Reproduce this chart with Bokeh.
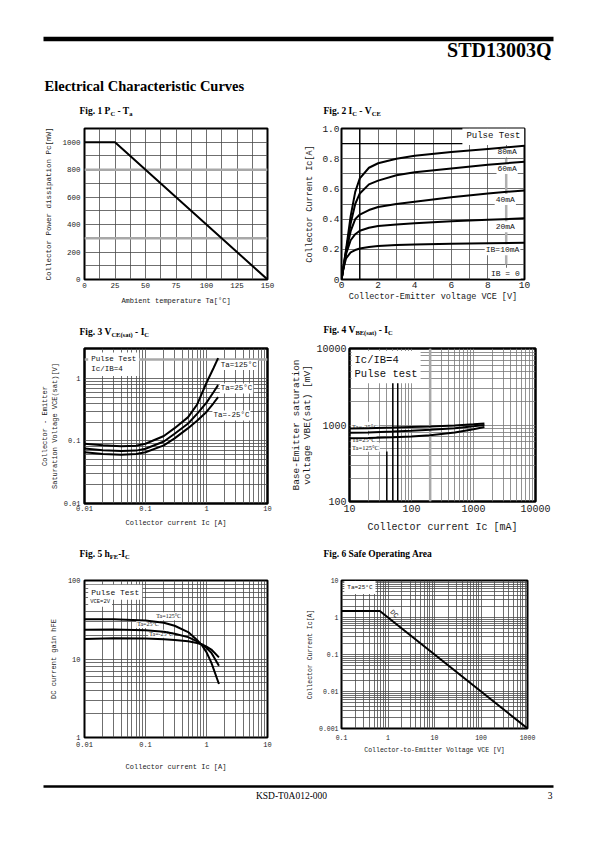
from bokeh.plotting import figure
from bokeh.layouts import column, row
from bokeh.models import Range1d, FixedTicker, CustomJSTickFormatter, Span, ColumnDataSource
from bokeh.core.properties import value
from bokeh.embed import file_html
from bokeh.resources import INLINE

# ---------------- data ----------------
# Fig 1  Pc - Ta
fig1_ta = [0, 25, 150]
fig1_pc = [1000, 1000, 0]

# Fig 2  Ic - Vce (A vs V) for several base currents
fig2_vce = [0, 0.1, 0.25, 0.5, 0.75, 1.0, 1.5, 2, 3, 4, 6, 8, 10]
fig2_ib10 = [0, 0.07, 0.14, 0.18, 0.195, 0.205, 0.215, 0.222, 0.228, 0.232, 0.237, 0.240, 0.243]
fig2_ib20 = [0, 0.07, 0.17, 0.26, 0.30, 0.323, 0.343, 0.355, 0.365, 0.372, 0.385, 0.395, 0.405]
fig2_ib40 = [0, 0.07, 0.18, 0.32, 0.40, 0.43, 0.46, 0.48, 0.50, 0.515, 0.545, 0.57, 0.59]
fig2_ib60 = [0, 0.08, 0.19, 0.37, 0.50, 0.57, 0.63, 0.655, 0.69, 0.71, 0.735, 0.76, 0.78]
fig2_ib80 = [0, 0.08, 0.20, 0.42, 0.58, 0.67, 0.74, 0.77, 0.80, 0.82, 0.845, 0.865, 0.885]
fig2_names = ["80mA", "60mA", "40mA", "20mA", "IB=10mA", "IB = 0"]

# Fig 3  Vce(sat) - Ic
fig3_ic = [0.01, 0.02, 0.04, 0.07, 0.1, 0.2, 0.3, 0.5, 0.7, 1.0, 1.3, 1.55]
fig3_t125 = [0.090, 0.085, 0.082, 0.084, 0.090, 0.12, 0.16, 0.24, 0.38, 0.85, 1.45, 2.1]
fig3_t25 = [0.076, 0.071, 0.069, 0.070, 0.075, 0.098, 0.13, 0.19, 0.27, 0.41, 0.60, 0.78]
fig3_tm25 = [0.066, 0.062, 0.060, 0.062, 0.066, 0.085, 0.11, 0.16, 0.21, 0.29, 0.40, 0.50]

# Fig 4  Vbe(sat) - Ic (mV vs mA)
fig4_ic = [10, 20, 50, 100, 200, 500, 1000, 1500]
fig4_tm25 = [900, 910, 925, 940, 955, 985, 1020, 1045]
fig4_t25 = [790, 800, 820, 840, 865, 910, 965, 1000]
fig4_t125 = [670, 675, 690, 705, 735, 800, 880, 940]

# Fig 5  hFE - Ic
fig5_ic = [0.01, 0.03, 0.1, 0.2, 0.3, 0.5, 0.7, 0.85, 1.0, 1.2, 1.6]
fig5_t125 = [32, 32, 31, 29, 26.5, 22, 17.5, 14.8, 12.2, 9.0, 4.8]
fig5_t25 = [23.5, 23.8, 23.3, 22.3, 21, 19, 16.8, 15.2, 13.8, 12.0, 8.2]
fig5_tm25 = [18, 18.4, 18.2, 17.8, 17.4, 16.8, 16, 15.3, 14.4, 13.2, 10.5]

# Fig 6  Safe operating area
fig6_vce = [0.1, 0.667, 1000]
fig6_ic = [1.5, 1.5, 0.001]

# tick labels
fig1_xticks = [0, 25, 50, 75, 100, 125, 150]
fig1_yticks = [0, 200, 400, 600, 800, 1000]
fig2_xticks = [0, 2, 4, 6, 8, 10]
fig2_yticks = [0, 0.2, 0.4, 0.6, 0.8, 1.0]

MONO = "Liberation Mono"
SERIF = "Liberation Serif"
GRID = "#4a4a4a"
PAGE_W = 587

# Times-Bold advance widths (1/1000 em) for title layout
TB = {' ': 250, '(': 333, ')': 333, ',': 250, '-': 333, '.': 250, 'A': 722, 'B': 667,
      'C': 722, 'E': 667, 'F': 611, 'I': 389, 'O': 778, 'P': 611, 'S': 556, 'T': 667,
      'V': 722, 'a': 500, 'e': 444, 'f': 333, 'g': 500, 'h': 556, 'i': 278, 'n': 556,
      'p': 556, 'r': 444, 's': 389, 't': 333, 'y': 500}


def tw(s, size):
    return sum(TB.get(c, 500) for c in s) / 1000.0 * size


def canvas(w, h):
    p = figure(width=w, height=h, x_range=Range1d(0, w), y_range=Range1d(h, 0),
               min_border=0, x_axis_location=None, y_axis_location=None,
               tools="", toolbar_location=None, output_backend="svg")
    p.grid.visible = False
    p.outline_line_color = None
    p.background_fill_color = "white"
    p.border_fill_color = "white"
    return p


def put_title(p, x0, yc, parts, size=9.5, sub=6.5):
    x = x0
    for txt, is_sub in parts:
        fs = sub if is_sub else size
        lead = len(txt) - len(txt.lstrip(" "))
        x += tw(" " * lead, fs)
        body = txt.strip(" ")
        p.text(x=[x], y=[yc + (3.0 if is_sub else 0.0)], text=[body],
               text_font=value(SERIF), text_font_style="bold", text_color="black",
               text_font_size="%.1fpx" % fs, text_baseline="middle", text_align="left")
        x += tw(txt.lstrip(" "), fs)


def log_ticks(e0, e1):
    majors = [10.0 ** e for e in range(e0, e1 + 1)]
    minors = [m * 10.0 ** e for e in range(e0, e1) for m in range(2, 10)]
    return majors, minors


def chart(fw, fh, bl, br, bt, bb, xr, yr, xlog=False, ylog=False, outline=2):
    p = figure(frame_width=fw, frame_height=fh, min_border_left=bl, min_border_right=br,
               min_border_top=bt, min_border_bottom=bb, x_range=xr, y_range=yr,
               x_axis_type="log" if xlog else "linear",
               y_axis_type="log" if ylog else "linear",
               tools="", toolbar_location=None, output_backend="svg")
    p.outline_line_color = "black"
    p.outline_line_width = outline
    p.background_fill_color = "white"
    p.border_fill_color = "white"
    for ax in p.axis:
        ax.axis_line_color = None
        ax.major_tick_line_color = None
        ax.minor_tick_line_color = None
        ax.major_tick_in = 0
        ax.major_tick_out = 0
        ax.minor_tick_in = 0
        ax.minor_tick_out = 0
        ax.major_label_text_font = MONO
        ax.axis_label_text_font = MONO
        ax.axis_label_text_font_style = "normal"
        ax.major_label_text_color = "#1a1a1a"
        ax.axis_label_text_color = "#1a1a1a"
    for g in p.grid:
        g.grid_line_color = GRID
        g.grid_line_width = 0.8
        g.minor_grid_line_color = GRID
        g.minor_grid_line_width = 0.8
    return p


def style_axis(ax, tick_size, lab_size, tick_off, lab_off):
    ax.major_label_text_font_size = tick_size
    ax.axis_label_text_font_size = lab_size
    ax.major_label_standoff = tick_off
    ax.axis_label_standoff = lab_off


def set_log_axes(ax, e0, e1):
    majors, minors = log_ticks(e0, e1)
    ax.ticker = FixedTicker(ticks=majors)
    ax.formatter = CustomJSTickFormatter(code="return tick.toString();")
    return majors, minors


def label_text(p, xs, ys, texts, size, font=MONO, align="center", baseline="middle",
               bg="white", angle=0.0, pad=1):
    src = ColumnDataSource(dict(x=xs, y=ys, t=texts))
    p.text(x="x", y="y", text="t", source=src, text_font=value(font),
           text_font_size=size, text_align=align, text_baseline=baseline,
           text_color="#111111", background_fill_color=bg, padding=pad, angle=angle)


# ---------------- header ----------------
header = canvas(PAGE_W, 100)
header.segment(x0=[43], y0=[38.5], x1=[553], y1=[38.5], line_width=4.5, line_color="black")
header.text(x=[551], y=[49], text=["STD13003Q"], text_font=value(SERIF), text_font_style="bold",
            text_font_size="20px", text_align="right", text_baseline="middle", text_color="black")
header.text(x=[44], y=[85], text=["Electrical Characteristic Curves"], text_font=value(SERIF),
            text_font_style="bold", text_font_size="14.5px", text_align="left",
            text_baseline="middle", text_color="black")

# ---------------- title rows ----------------
tit1 = canvas(PAGE_W, 18)
put_title(tit1, 79, 10, [("Fig. 1 P", 0), ("C", 1), (" - T", 0), ("a", 1)])
put_title(tit1, 323, 10, [("Fig. 2 I", 0), ("C", 1), (" - V", 0), ("CE", 1)])

tit2 = canvas(PAGE_W, 18)
put_title(tit2, 79, 11, [("Fig. 3 V", 0), ("CE(sat)", 1), (" - I", 0), ("C", 1)])
put_title(tit2, 323, 9, [("Fig. 4 V", 0), ("BE(sat)", 1), (" - I", 0), ("C", 1)])

tit3 = canvas(PAGE_W, 20)
put_title(tit3, 79, 13, [("Fig. 5 h", 0), ("FE", 1), ("-I", 0), ("C", 1)])
put_title(tit3, 323, 13, [("Fig. 6 Safe Operating Area", 0)])

# ---------------- Fig 1 ----------------
f1 = chart(183, 151, 84, 21, 10, 41, Range1d(0, 150), Range1d(0, 1100))
f1.xaxis.ticker = FixedTicker(ticks=fig1_xticks)
f1.yaxis.ticker = FixedTicker(ticks=fig1_yticks)
f1.xgrid.ticker = FixedTicker(ticks=[i * 12.5 for i in range(13)])
f1.ygrid.ticker = FixedTicker(ticks=[i * 100 for i in range(12)])
style_axis(f1.xaxis[0], "7.5px", "7px", 3, 6)
style_axis(f1.yaxis[0], "7.5px", "7.5px", 4, 6)
f1.xaxis.axis_label = "Ambient temperature Ta[°C]"
f1.yaxis.axis_label = "Collector Power dissipation Pc[mW]"
for yv in [800, 300]:
    f1.add_layout(Span(location=yv, dimension="width", line_color="#a8a8a8", line_width=2.5,
                       level="underlay"))
f1.line(fig1_ta, fig1_pc, line_color="black", line_width=2)

# ---------------- Fig 2 ----------------
f2 = chart(183, 151, 53, 63, 10, 41, Range1d(0, 10), Range1d(0, 1.0))
f2.xaxis.ticker = FixedTicker(ticks=fig2_xticks)
f2.yaxis.ticker = FixedTicker(ticks=fig2_yticks)
f2.yaxis.formatter = CustomJSTickFormatter(code="return tick == 0 ? '0' : tick.toFixed(1);")
f2.xgrid.ticker = FixedTicker(ticks=list(range(11)))
f2.ygrid.ticker = FixedTicker(ticks=[i / 10 for i in range(11)])
style_axis(f2.xaxis[0], "9.5px", "8.5px", 2, 1)
style_axis(f2.yaxis[0], "9.5px", "8.5px", 2, 4)
f2.xaxis.axis_label = "Collector-Emitter voltage VCE [V]"
f2.yaxis.axis_label = "Collector Current Ic[A]"
f2.add_layout(Span(location=1, dimension="height", line_color="black", line_width=1.4, level="underlay"))
f2.add_layout(Span(location=0.9, dimension="width", line_color="black", line_width=1.4, level="underlay"))
f2.segment(x0=[9], y0=[0.1], x1=[9], y1=[0.8], line_color="#b0b0b0", line_width=2.5)
label_text(f2, [8.3], [0.95], ["Pulse Test"], "9px", pad=4)
label_text(f2, [9.05, 9.05, 8.95, 8.95, 8.8, 8.95],
           [0.845, 0.735, 0.53, 0.35, 0.197, 0.042], fig2_names, "8px")
for ys in [fig2_ib10, fig2_ib20, fig2_ib40, fig2_ib60, fig2_ib80]:
    f2.line(fig2_vce, ys, line_color="black", line_width=2)

# ---------------- Fig 3 ----------------
f3 = chart(183, 155, 84, 21, 10, 37, Range1d(0.01, 10), Range1d(0.01, 3),
           xlog=True, ylog=True, outline=2.5)
mx, nx = set_log_axes(f3.xaxis[0], -2, 1)
my, ny = set_log_axes(f3.yaxis[0], -2, 0)
f3.xgrid.ticker = FixedTicker(ticks=mx, minor_ticks=nx)
f3.ygrid.ticker = FixedTicker(ticks=my, minor_ticks=ny + [2.0, 3.0])
style_axis(f3.xaxis[0], "7px", "7px", 2, 5)
style_axis(f3.yaxis[0], "7px", "7px", 4, 2)
f3.xaxis.axis_label = "Collector current Ic [A]"
f3.yaxis.axis_label = "Collector - Emitter\nSaturation Voltage VCE(sat)[V]"
f3.add_layout(Span(location=2.0, dimension="width", line_color="#a8a8a8", line_width=2.5, level="underlay"))
label_text(f3, [0.0115], [2.6], ["Pulse Test\nIc/IB=4"], "7.5px", align="left", baseline="top", pad=3)
label_text(f3, [1.65, 1.65, 1.25], [1.63, 0.69, 0.255], ["Ta=125°C", "Ta=25°C", "Ta=-25°C"],
           "7.5px", align="left")
for ys in [fig3_t125, fig3_t25, fig3_tm25]:
    f3.line(fig3_ic, ys, line_color="black", line_width=2)

# ---------------- Fig 4 ----------------
f4 = chart(186, 153, 53, 60, 9, 40, Range1d(10, 10000), Range1d(100, 10000),
           xlog=True, ylog=True, outline=2.5)
mx, nx = set_log_axes(f4.xaxis[0], 1, 4)
my, ny = set_log_axes(f4.yaxis[0], 2, 4)
f4.xgrid.ticker = FixedTicker(ticks=mx, minor_ticks=nx)
f4.ygrid.ticker = FixedTicker(ticks=my, minor_ticks=ny)
for g in f4.grid:
    g.grid_line_color = "#777777"
    g.minor_grid_line_color = "#777777"
style_axis(f4.xaxis[0], "10px", "10px", 3, 7)
style_axis(f4.yaxis[0], "10px", "9.5px", 3, 0)
f4.yaxis.axis_label_text_line_height = 1.0
f4.xaxis.axis_label = "Collector current Ic [mA]"
f4.yaxis.axis_label = "Base-Emitter saturation\nvoltage VBE(sat) [mV]"
f4.add_layout(Span(location=200, dimension="height", line_color="#a8a8a8", line_width=2.5, level="underlay"))
f4.segment(x0=[40, 50, 60], y0=[100, 100, 100], x1=[40, 50, 60], y1=[450, 4000, 4000],
           line_color="black", line_width=1.5)
label_text(f4, [10.8], [9300], ["Ic/IB=4\nPulse test"], "10.5px", align="left", baseline="top", pad=3)
label_text(f4, [10.6, 10.6, 10.6], [965, 640, 510], ["Ta=-25°C", "Ta=25°C", "Ta=125°C"],
           "6.5px", font=SERIF, align="left")
for ys in [fig4_tm25, fig4_t25, fig4_t125]:
    f4.line(fig4_ic, ys, line_color="black", line_width=2)

# ---------------- Fig 5 ----------------
f5 = chart(183, 157, 84, 21, 20, 38, Range1d(0.01, 10), Range1d(1, 100), xlog=True, ylog=True)
mx, nx = set_log_axes(f5.xaxis[0], -2, 1)
my, ny = set_log_axes(f5.yaxis[0], 0, 2)
f5.xgrid.ticker = FixedTicker(ticks=mx, minor_ticks=nx)
f5.ygrid.ticker = FixedTicker(ticks=my, minor_ticks=ny)
style_axis(f5.xaxis[0], "7px", "7px", 4, 13)
style_axis(f5.yaxis[0], "7px", "7px", 4, 7)
f5.xaxis.axis_label = "Collector current Ic [A]"
f5.yaxis.axis_label = "DC current gain hFE"
label_text(f5, [0.0115], [88], ["Pulse Test"], "8px", align="left", baseline="top", pad=3)
label_text(f5, [0.0115], [64], ["VCE=2V"], "5.5px", align="left", baseline="top", pad=2)
label_text(f5, [0.24, 0.11, 0.18], [35, 28, 21], ["Ta=125°C", "Ta=25°C", "Ta=-25°C"],
           "6px", font=SERIF)
for ys in [fig5_t125, fig5_t25, fig5_tm25]:
    f5.line(fig5_ic, ys, line_color="black", line_width=2)

# ---------------- Fig 6 ----------------
f6 = chart(186, 148, 53, 60, 20, 47, Range1d(0.1, 1000), Range1d(0.001, 10), xlog=True, ylog=True)
mx, nx = set_log_axes(f6.xaxis[0], -1, 3)
my, ny = set_log_axes(f6.yaxis[0], -3, 1)
f6.xgrid.ticker = FixedTicker(ticks=mx, minor_ticks=nx)
f6.ygrid.ticker = FixedTicker(ticks=my, minor_ticks=ny)
style_axis(f6.xaxis[0], "6.5px", "6.5px", 6, 4)
style_axis(f6.yaxis[0], "6.5px", "6.5px", 3, 2)
f6.xaxis.axis_label = "Collector-to-Emitter Voltage VCE [V]"
f6.yaxis.axis_label = "Collector Current Ic[A]"
label_text(f6, [0.115], [6.5], ["Ta=25°C"], "6px", align="left", pad=3)
label_text(f6, [1.35], [1.25], ["DC"], "7px", angle=-0.8, bg=None)
f6.line(fig6_vce, fig6_ic, line_color="black", line_width=2)

# ---------------- footer ----------------
footer = canvas(PAGE_W, 59)
footer.segment(x0=[43], y0=[11], x1=[553], y1=[11], line_width=2.5, line_color="black")
footer.text(x=[291], y=[20], text=["KSD-T0A012-000"], text_font=value(SERIF),
            text_font_size="9.5px", text_align="center", text_baseline="middle", text_color="black")
footer.text(x=[552], y=[20], text=["3"], text_font=value(SERIF),
            text_font_size="9.5px", text_align="right", text_baseline="middle", text_color="black")

page = column(
    header,
    tit1,
    row(f1, f2),
    tit2,
    row(f3, f4),
    tit3,
    row(f5, f6),
    footer,
)

open("out.html", "w").write(file_html(page, INLINE))
